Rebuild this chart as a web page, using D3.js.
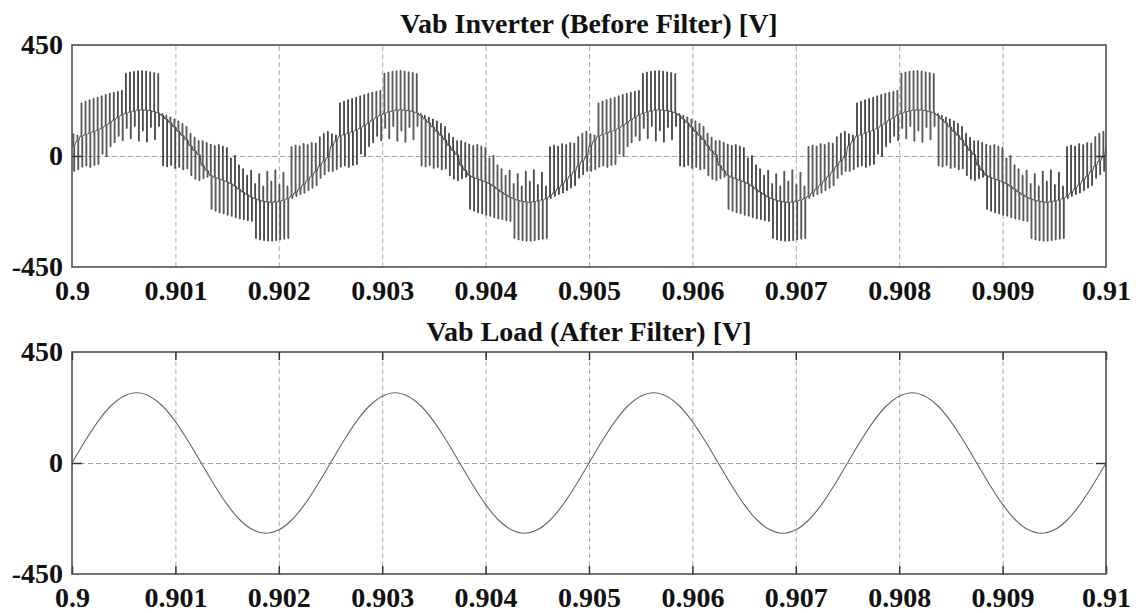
<!DOCTYPE html>
<html>
<head>
<meta charset="utf-8">
<script src="https://cdn.jsdelivr.net/npm/d3@7"></script>
<style>
    body { margin: 0; background: #fff; }
    text { font-family: "Liberation Serif", "Times New Roman", serif; font-weight: bold; fill: #111; }
</style>
</head>
<body>
<div id="chart"></div>
<script>
// axis ticks
const xTicks = [0.9, 0.901, 0.902, 0.903, 0.904, 0.905, 0.906, 0.907, 0.908, 0.909, 0.91];
const xTickLabels = ["0.9", "0.901", "0.902", "0.903", "0.904", "0.905", "0.906", "0.907", "0.908", "0.909", "0.91"];
const yTicks = [-450, 0, 450];
const yTickLabels = ["-450", "0", "450"];
const titles = ["Vab Inverter (Before Filter) [V]", "Vab Load (After Filter) [V]"];

// inverter voltage: one 2.5 ms period, 64 switching slots
// (the same pattern repeats for each period start)
const periodStarts = [0.9, 0.9025, 0.905, 0.9075];
const periodLength = 0.0025;
const invBase = [40, 60, 80, 86, 92, 98, 104, 112, 122, 132, 145, 155, 165,
    172, 178, 182, 186, 187, 186, 184, 180, 175,
    165, 150, 135, 118, 100, 84, 66, 42, 22, 6,
    -38, -58, -78, -86, -92, -98, -104, -112, -122, -134, -146, -156, -166,
    -173, -179, -183, -186, -188, -186, -183, -179, -174,
    -164, -150, -134, -118, -100, -82, -64, -42, -22, -6];
const invHigh = [90, 85, 215, 222, 228, 233, 238, 244, 249, 254, 258, 262, 266,
    335, 340, 343, 345, 346, 344, 341, 338, 334,
    172, 165, 158, 150, 142, 132, 120, 92, 76, 62,
    62, 55, 48, 42, 46, 40, 34, -8, 2, -36, -52, -78, -58,
    -112, -72, -122, -62, -102, -56, -116, -66, -122,
    38, 44, 40, 50, 46, 54, 52, 78, 92, 100];
const invLow = [-62, -55, -45, -40, -46, -38, -34, 8, -2, 38, 54, 80, 62,
    112, 70, 120, 60, 102, 56, 116, 66, 120,
    -40, -44, -38, -50, -46, -56, -52, -80, -94, -100,
    -92, -86, -216, -224, -230, -234, -240, -244, -250, -255, -258, -262, -265,
    -334, -340, -343, -345, -345, -343, -340, -337, -334,
    -172, -164, -156, -150, -140, -130, -120, -90, -76, -62];

// load voltage, sampled every 0.125 ms from 0.9 s
const loadStart = 0.9;
const loadStep = 0.000125;
const loadV = [0, 88, 168, 231, 271, 285, 271, 231, 168, 88,
    0, -88, -168, -231, -271, -285, -271, -231, -168, -88,
    0, 88, 168, 231, 271, 285, 271, 231, 168, 88,
    0, -88, -168, -231, -271, -285, -271, -231, -168, -88,
    0, 88, 168, 231, 271, 285, 271, 231, 168, 88,
    0, -88, -168, -231, -271, -285, -271, -231, -168, -88,
    0, 88, 168, 231, 271, 285, 271, 231, 168, 88,
    0, -88, -168, -231, -271, -285, -271, -231, -168, -88,
    0];

let width = 1139, height = 613;
let svg = d3.select("#chart")
    .append("svg")
    .attr("width", width)
    .attr("height", height);

let x = d3.scaleLinear()
    .domain([0.9, 0.91])
    .range([72, 1106]);

let panels = [
    { top: 45, bottom: 267, titleY: 33, xTicksShown: false },
    { top: 352, bottom: 574, titleY: 341, xTicksShown: true }
];

function drawPanel(p, i) {
    let y = d3.scaleLinear()
        .domain([-450, 450])
        .range([p.bottom, p.top]);
    let g = svg.append("g");
    let h = p.bottom - p.top;
    let w = x.range()[1] - x.range()[0];

    // dashed grid
    g.append("g")
        .attr("transform", `translate(0, ${p.bottom})`)
        .call(d3.axisBottom(x).tickValues(xTicks.slice(1, -1)).tickSize(-h).tickFormat(""))
        .call(a => a.select(".domain").remove())
        .selectAll("line")
        .attr("stroke", "#b0b0b0")
        .attr("stroke-dasharray", "5,3");

    g.append("g")
        .attr("transform", `translate(${x.range()[0]}, 0)`)
        .call(d3.axisLeft(y).tickValues([0]).tickSize(-w).tickFormat(""))
        .call(a => a.select(".domain").remove())
        .selectAll("line")
        .attr("stroke", "#a0a0a0")
        .attr("stroke-dasharray", "5,3");

    // clip for the traces
    svg.append("clipPath")
        .attr("id", "clip" + i)
        .append("rect")
        .attr("x", x.range()[0])
        .attr("y", p.top)
        .attr("width", w)
        .attr("height", h);

    // inward ticks
    let tickStyle = a => a.call(s => s.select(".domain").remove())
        .selectAll("line").attr("stroke", "#333").attr("stroke-width", 1.5);
    if (p.xTicksShown) {
        g.append("g")
            .attr("transform", `translate(0, ${p.bottom})`)
            .call(d3.axisBottom(x).tickValues(xTicks).tickSize(-8).tickFormat(""))
            .call(tickStyle);
        g.append("g")
            .attr("transform", `translate(0, ${p.top})`)
            .call(d3.axisTop(x).tickValues(xTicks).tickSize(-8).tickFormat(""))
            .call(tickStyle);
    }
    g.append("g")
        .attr("transform", `translate(${x.range()[0]}, 0)`)
        .call(d3.axisLeft(y).tickValues([0]).tickSize(-10).tickFormat(""))
        .call(tickStyle);
    g.append("g")
        .attr("transform", `translate(${x.range()[1]}, 0)`)
        .call(d3.axisRight(y).tickValues([0]).tickSize(-10).tickFormat(""))
        .call(tickStyle);

    // tick labels
    g.append("g")
        .attr("transform", `translate(${x.range()[0]}, 0)`)
        .call(d3.axisLeft(y).tickValues(yTicks).tickSize(0).tickPadding(9)
            .tickFormat((d, k) => yTickLabels[k]))
        .call(a => a.select(".domain").remove())
        .selectAll("text")
        .attr("fill", "#111")
        .style("font-size", "28px")
        .style("font-family", "'Liberation Serif', serif")
        .style("font-weight", "bold");

    g.append("g")
        .attr("transform", `translate(0, ${p.bottom})`)
        .call(d3.axisBottom(x).tickValues(xTicks).tickSize(0).tickPadding(13)
            .tickFormat((d, k) => xTickLabels[k]))
        .call(a => a.select(".domain").remove())
        .selectAll("text")
        .attr("fill", "#111")
        .style("font-size", "28px")
        .style("font-family", "'Liberation Serif', serif")
        .style("font-weight", "bold");

    // title
    svg.append("text")
        .attr("x", (x.range()[0] + x.range()[1]) / 2)
        .attr("y", p.titleY)
        .attr("text-anchor", "middle")
        .style("font-size", "28px")
        .text(titles[i]);

    p.y = y;
    p.g = g;
}

panels.forEach(drawPanel);

// inverter trace: each slot dwells at base, pulses up to high, then down to low
let slotDur = periodLength / invBase.length;
let invPoints = [];
periodStarts.forEach(t0 => {
    invBase.forEach((b, i) => {
        let t = t0 + i * slotDur;
        invPoints.push([t, b],
            [t + 0.25 * slotDur, b], [t + 0.25 * slotDur, invHigh[i]],
            [t + 0.45 * slotDur, invHigh[i]], [t + 0.45 * slotDur, invLow[i]],
            [t + 0.65 * slotDur, invLow[i]], [t + 0.65 * slotDur, b]);
    });
});
invPoints.push([0.91, invBase[0]]);

svg.append("path")
    .datum(invPoints)
    .attr("clip-path", "url(#clip0)")
    .attr("fill", "none")
    .attr("stroke", "#333")
    .attr("stroke-width", 0.9)
    .attr("d", d3.line()
        .x(d => x(d[0]))
        .y(d => panels[0].y(d[1])));

// load trace
svg.append("path")
    .datum(loadV)
    .attr("clip-path", "url(#clip1)")
    .attr("fill", "none")
    .attr("stroke", "#666")
    .attr("stroke-width", 1.1)
    .attr("d", d3.line()
        .curve(d3.curveCatmullRom)
        .x((d, i) => x(loadStart + i * loadStep))
        .y(d => panels[1].y(d)));

// plot frames
panels.forEach(p => {
    svg.append("rect")
        .attr("x", x.range()[0])
        .attr("y", p.top)
        .attr("width", x.range()[1] - x.range()[0])
        .attr("height", p.bottom - p.top)
        .attr("fill", "none")
        .attr("stroke", "#444")
        .attr("stroke-width", 1.5);
});
</script>
</body>
</html>
